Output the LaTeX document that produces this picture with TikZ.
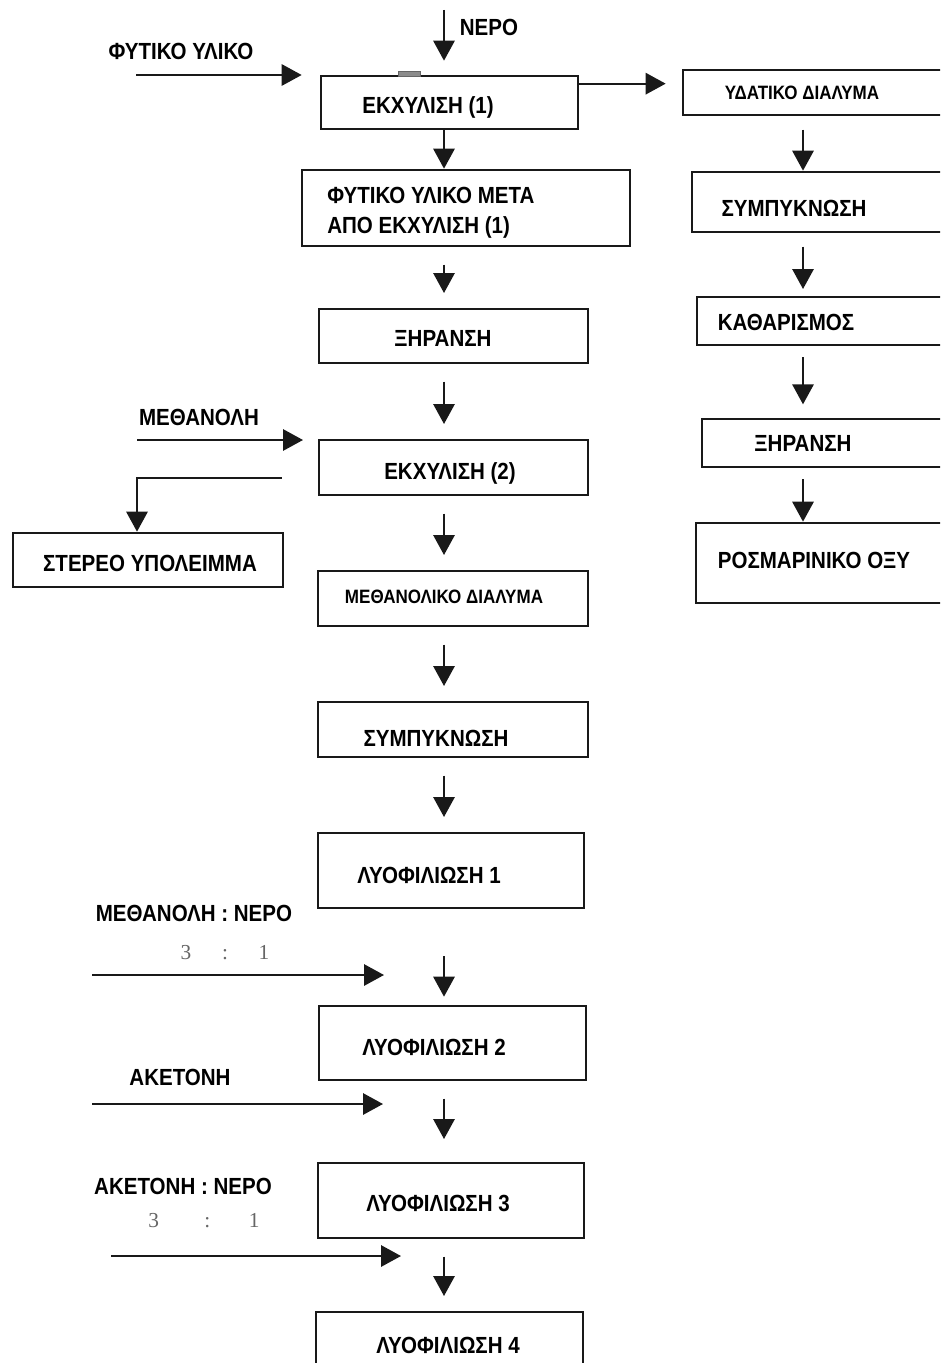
\documentclass[tikz,border=0pt]{standalone}
\usepackage{fontspec}
\newfontfamily\flowfont{Liberation Sans}[FakeStretch=0.88]
\newfontfamily\ratiofont{Liberation Serif}
\usetikzlibrary{arrows.meta, positioning, calc, fit}

\tikzset{
  box/.style={draw=black!90, line width=2pt, inner sep=0pt},
  txt/.style={font=\flowfont\bfseries\fontsize{17.5}{22.5}\selectfont, inner sep=0pt},
  smalltxt/.style={font=\flowfont\bfseries\fontsize{14.5}{17}\selectfont, inner sep=0pt},
  ratio/.style={font=\ratiofont\fontsize{16}{19}\selectfont, text=black!60, inner sep=0pt},
  flow/.style={draw=black!90, line width=1.5pt, -{Triangle[width=16pt,length=15pt]}},
  gap/.style={shorten <=13pt, shorten >=11pt}
}

\begin{document}
\begin{tikzpicture}[x=0.75pt, y=-0.75pt]
    \useasboundingbox (0,0) rectangle (940,1363);
    \clip (0,0) rectangle (940,1363);

    \coordinate (spine) at (444,0); % main line
    \coordinate (rspine) at (803,0); % right branch

    % main column
    \node[box, fit={(321,76) (578,129)}] (ex1) {};
    \node[txt] (ex1txt) at (428,107) {ΕΚΧΥΛΙΣΗ (1)};
    \draw[fill=black!45, draw=black!60, line width=0.6pt] (398,71) rectangle (420,76); % tab on top

    \node[box, fit={(302,170) (630,246)}] (after) {};
    \node[txt, anchor=west, align=left] (aftertxt) at (327,213) {ΦΥΤΙΚΟ ΥΛΙΚΟ ΜΕΤΑ\\ΑΠΟ ΕΚΧΥΛΙΣΗ (1)};

    \node[box, fit={(319,309) (588,363)}] (dry1) {};
    \node[txt] (dry1txt) at (443,338) {ΞΗΡΑΝΣΗ};

    \node[box, fit={(319,440) (588,495)}] (ex2) {};
    \node[txt] (ex2txt) at (450,473) {ΕΚΧΥΛΙΣΗ (2)};

    \node[box, fit={(318,571) (588,626)}] (meth) {};
    \node[smalltxt] (methtxt) at (444,597) {ΜΕΘΑΝΟΛΙΚΟ ΔΙΑΛΥΜΑ};

    \node[box, fit={(318,702) (588,757)}] (conc1) {};
    \node[txt] (conc1txt) at (436,738) {ΣΥΜΠΥΚΝΩΣΗ};

    \node[box, fit={(318,833) (584,908)}] (lyo1) {};
    \node[txt] (lyo1txt) at (429,875) {ΛΥΟΦΙΛΙΩΣΗ 1};

    \node[box, fit={(319,1006) (586,1080)}] (lyo2) {};
    \node[txt] (lyo2txt) at (434,1047) {ΛΥΟΦΙΛΙΩΣΗ 2};

    \node[box, fit={(318,1163) (584,1238)}] (lyo3) {};
    \node[txt] (lyo3txt) at (438,1203) {ΛΥΟΦΙΛΙΩΣΗ 3};

    \node[box, fit={(316,1312) (583,1385)}] (lyo4) {};
    \node[txt] (lyo4txt) at (448,1345) {ΛΥΟΦΙΛΙΩΣΗ 4};

    % right branch
    \node[box, fit={(683,70) (950,115)}] (aq) {};
    \node[smalltxt] (aqtxt) at (802,93) {ΥΔΑΤΙΚΟ ΔΙΑΛΥΜΑ};

    \node[box, fit={(692,172) (950,232)}] (conc2) {};
    \node[txt] (conc2txt) at (794,208) {ΣΥΜΠΥΚΝΩΣΗ};

    \node[box, fit={(697,297) (950,345)}] (pur) {};
    \node[txt] (purtxt) at (786,322) {ΚΑΘΑΡΙΣΜΟΣ};

    \node[box, fit={(702,419) (950,467)}] (dry2) {};
    \node[txt] (dry2txt) at (803,443) {ΞΗΡΑΝΣΗ};

    \node[box, fit={(696,523) (950,603)}] (ros) {};
    \node[txt] (rostxt) at (814,560) {ΡΟΣΜΑΡΙΝΙΚΟ ΟΞΥ};

    % residue on the left
    \node[box, fit={(13,533) (283,587)}] (solid) {};
    \node[txt] (solidtxt) at (150,563) {ΣΤΕΡΕΟ ΥΠΟΛΕΙΜΜΑ};

    % feeds
    \node[txt] (nero) at (489,27) {ΝΕΡΟ};
    \node[txt] (plant) at (181,51) {ΦΥΤΙΚΟ ΥΛΙΚΟ};
    \node[txt] (methanol) at (199,417) {ΜΕΘΑΝΟΛΗ};
    \node[txt] (mix1) at (194,913) {ΜΕΘΑΝΟΛΗ : ΝΕΡΟ};
    \node[ratio] (ratio1) at (225,953) {3\hspace{23pt}:\hspace{23pt}1};
    \node[txt] (acetone) at (180,1077) {ΑΚΕΤΟΝΗ};
    \node[txt] (mix2) at (183,1186) {ΑΚΕΤΟΝΗ : ΝΕΡΟ};
    \node[ratio] (ratio2) at (204,1221) {3\hspace{34pt}:\hspace{29pt}1};

    \coordinate (neroin) at (444,10);
    \coordinate (plantin) at (136,75);
    \coordinate (aqout) at ($(ex1.north east)+(0,9)$);
    \coordinate (methin) at (137,440);
    \coordinate (solidturn) at (137,478);
    \coordinate (mixin1) at (92,975);
    \coordinate (mixend1) at (384,975);
    \coordinate (acin) at (92,1104);
    \coordinate (acend) at (383,1104);
    \coordinate (mixin2) at (111,1256);
    \coordinate (mixend2) at (401,1256);

    % connectors, main column
    \draw[flow, shorten >=10.5pt] (neroin) -- (ex1.north -| spine);
    \draw[flow, shorten >=13.5pt] (plantin) -- (plantin -| ex1.west);
    \draw[flow, shorten >=12pt] (aqout) -- (aqout -| aq.west);
    \draw[flow] (ex1.south -| spine) -- (after.north -| spine);
    \draw[flow, gap] (after.south -| spine) -- (dry1.north -| spine);
    \draw[flow, gap] (dry1.south -| spine) -- (ex2.north -| spine);
    \draw[flow, shorten >=11pt] (methin) -- (methin -| ex2.west);
    \draw[flow, shorten <=27pt] (ex2.west |- solidturn) -- (solidturn) -- (solidturn |- solid.north);
    \draw[flow, gap] (ex2.south -| spine) -- (meth.north -| spine);
    \draw[flow, gap] (meth.south -| spine) -- (conc1.north -| spine);
    \draw[flow, gap] (conc1.south -| spine) -- (lyo1.north -| spine);
    \draw[flow, shorten <=35pt, shorten >=6pt] (lyo1.south -| spine) -- (lyo2.north -| spine);
    \draw[flow] (mixin1) -- (mixend1);
    \draw[flow, shorten <=13pt, shorten >=17pt] (lyo2.south -| spine) -- (lyo3.north -| spine);
    \draw[flow] (acin) -- (acend);
    \draw[flow, gap] (lyo3.south -| spine) -- (lyo4.north -| spine);
    \draw[flow] (mixin2) -- (mixend2);

    % connectors, right branch
    \draw[flow, shorten <=10pt] (aq.south -| rspine) -- (conc2.north -| rspine);
    \draw[flow, shorten <=10pt, shorten >=5pt] (conc2.south -| rspine) -- (pur.north -| rspine);
    \draw[flow, shorten <=8pt, shorten >=10pt] (pur.south -| rspine) -- (dry2.north -| rspine);
    \draw[flow, shorten <=8pt, xshift=3.75pt] (dry2.south -| rspine) -- (ros.north -| rspine);
\end{tikzpicture}
\end{document}
